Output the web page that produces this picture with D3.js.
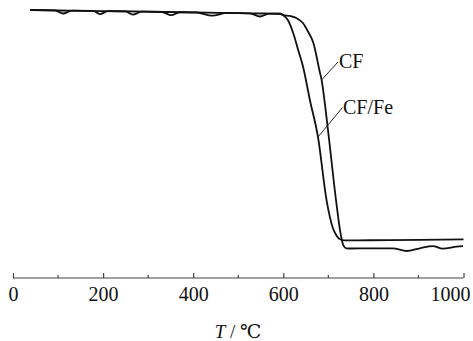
<!DOCTYPE html>
<html>
<head>
<meta charset="utf-8">
<script src="https://cdn.jsdelivr.net/npm/d3@7/dist/d3.min.js"></script>
<style>
  html, body { margin: 0; padding: 0; background: #fff; }
  svg { display: block; }
</style>
</head>
<body>
<svg id="chart" width="473" height="341"></svg>
<script>
// ---- data (temperature in °C, relative mass %) ----
const cfT = [38, 93, 111, 131, 178, 193, 211, 249, 266, 286, 331, 351, 371, 408, 442, 475, 526, 548, 570, 593,
  600, 615, 630, 644, 655, 667, 674, 680, 685, 694, 701, 717, 727, 733, 740, 752,
  785, 843, 874, 903, 932, 954, 985, 999];
const cfMass = [100, 99.85, 98.65, 99.76, 99.64, 98.45, 99.55, 99.45, 98.25, 99.35, 99.24, 98.0, 99.13, 99.04, 97.8, 98.86, 98.73, 97.5, 98.62, 98.56,
  98.08, 97.7, 96.8, 94.9, 91.65, 87.2, 82.0, 76.9, 73.1, 61.5, 51.15, 26.9, 14.2, 9.6, 8.35, 8.27,
  8.35, 8.35, 7.3, 8.35, 9.2, 8.2, 9.0, 9.2];

const cffeT = [38, 100, 200, 300, 400, 500, 560, 593, 599, 610, 622, 633, 644, 659, 677, 696, 710, 718, 725, 735, 792, 903, 1000];
const cffeMass = [100, 99.8, 99.6, 99.35, 99.07, 98.8, 98.65, 98.56, 98.08, 96.15, 91.15, 84.6, 78.1, 65.4, 51.15, 26.9, 16.15, 13.3, 11.9, 11.4, 11.45, 11.6, 11.8];

const seriesNames = ["CF", "CF/Fe"];
const labelAnchorT = [685, 677];     // where the leader lines touch the curves
const xTicksMajor = [0, 200, 400, 600, 800, 1000];
const xTicksMinor = [100, 300, 500, 700, 900];

// ---- drawing ----
const SERIF = "'Liberation Serif', 'Times New Roman', Tinos, 'DejaVu Serif', serif";
const svg = d3.select("#chart");
const x = d3.scaleLinear().domain([0, 1000]).range([13, 463.5]);
const y = d3.scaleLinear().domain([0, 100]).range([270, 10]);
const axisY = 278;

const line = d3.line().x(d => x(d[0])).y(d => y(d[1])).curve(d3.curveMonotoneX);

const cf = cfT.map((t, i) => [t, cfMass[i]]);
const cffe = cffeT.map((t, i) => [t, cffeMass[i]]);

[cf, cffe].forEach(s => {
  svg.append("path").datum(s).attr("d", line)
    .attr("fill", "none").attr("stroke", "#111").attr("stroke-width", 1.8)
    .attr("stroke-linejoin", "round");
});

// x axis (ticks pointing up)
const ax = svg.append("g").attr("transform", `translate(0,${axisY})`);
ax.call(d3.axisBottom(x).tickValues(xTicksMajor).tickSize(-5).tickPadding(9).tickFormat(d3.format("d")));
ax.attr("font-family", null).attr("font-size", null);
ax.select(".domain").attr("stroke", "#444").attr("stroke-width", 1.2).attr("d", `M${x(0)},0H${x(1000)}`);
ax.selectAll(".tick line").attr("stroke", "#444").attr("stroke-width", 1.2);
ax.selectAll(".tick text")
  .style("font-family", SERIF).style("font-size", "20px").attr("fill", "#111")
  .attr("dy", "0.71em");
ax.selectAll(".tick text").filter(d => d === 1000).attr("text-anchor", "end").attr("x", 470 - x(1000));
xTicksMinor.forEach(t => {
  ax.append("line").attr("x1", x(t)).attr("x2", x(t)).attr("y1", 0).attr("y2", -3)
    .attr("stroke", "#444").attr("stroke-width", 1.2);
});

// axis title
const title = svg.append("text").attr("x", 238).attr("y", 338).attr("text-anchor", "middle")
  .style("font-family", SERIF).style("font-size", "19px").attr("fill", "#111");
title.append("tspan").style("font-style", "italic").text("T");
title.append("tspan").text(" / ");
title.append("tspan").text("℃");

// labels with leader lines
function interpMass(T, s) {
  for (let i = 1; i < s.length; i++) {
    if (s[i][0] >= T) {
      const a = s[i - 1], b = s[i];
      return a[1] + (b[1] - a[1]) * (T - a[0]) / (b[0] - a[0]);
    }
  }
  return s[s.length - 1][1];
}
const labelPos = [[339, 68, 338, 62], [343, 114, 342.5, 107.5]]; // text x, text y, leader end x, y
[cf, cffe].forEach((s, i) => {
  const T = labelAnchorT[i];
  svg.append("line")
    .attr("x1", x(T)).attr("y1", y(interpMass(T, s)))
    .attr("x2", labelPos[i][2]).attr("y2", labelPos[i][3])
    .attr("stroke", "#222").attr("stroke-width", 1);
  svg.append("text").attr("x", labelPos[i][0]).attr("y", labelPos[i][1])
    .style("font-family", SERIF).style("font-size", "20px").attr("fill", "#111")
    .text(seriesNames[i]);
});
</script>
</body>
</html>
